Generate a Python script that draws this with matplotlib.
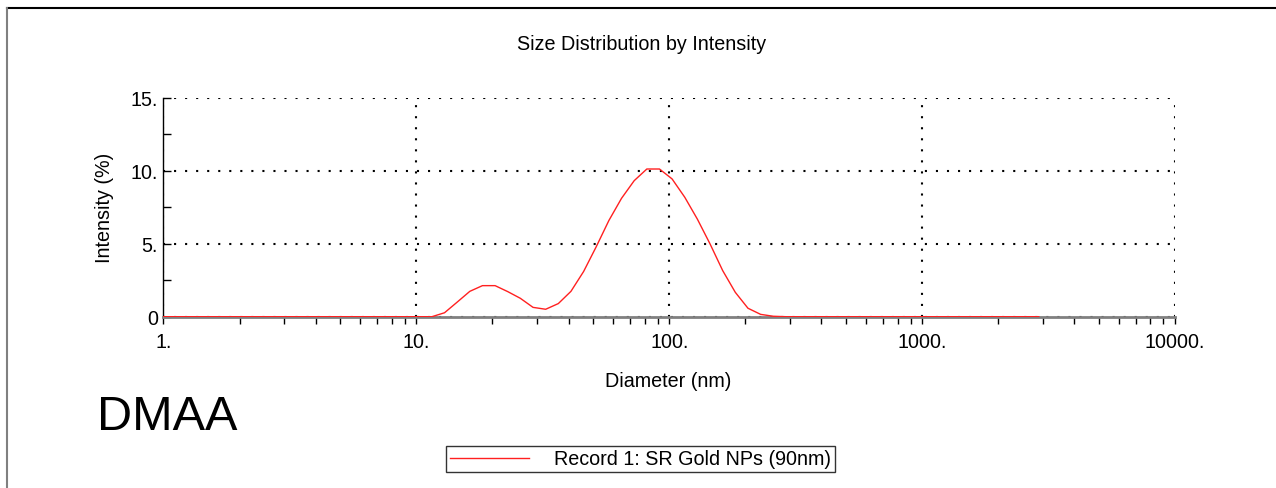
import matplotlib
matplotlib.use("Agg")
import matplotlib.pyplot as plt
from matplotlib.lines import Line2D
from matplotlib.ticker import FixedLocator, FixedFormatter, LogLocator, NullFormatter

plt.rcParams['font.family'] = ['Liberation Sans', 'DejaVu Sans']

# Size classes (nm)
diameter = [0.9148, 1.026, 1.152, 1.292, 1.450, 1.627, 1.825, 2.048, 2.298, 2.578, 2.893,
            3.246, 3.642, 4.086, 4.585, 5.144, 5.772, 6.476, 7.267, 8.153, 9.148,
            10.26, 11.52, 12.92, 14.50, 16.27, 18.25, 20.48, 22.98, 25.78, 28.93,
            32.46, 36.42, 40.86, 45.85, 51.44, 57.72, 64.76, 72.67, 81.53, 91.48,
            102.6, 115.2, 129.2, 145.0, 162.7, 182.5, 204.8, 229.8, 257.8, 289.3,
            324.6, 364.2, 408.6, 458.5, 514.4, 577.2, 647.6, 726.7, 815.3, 914.8,
            1026, 1152, 1292, 1450, 1627, 1825, 2048, 2298, 2578, 2893]
intensity = [0, 0, 0, 0, 0, 0, 0, 0, 0, 0, 0,
             0, 0, 0, 0, 0, 0, 0, 0, 0, 0,
             0, 0, 0.27, 1.0, 1.74, 2.13, 2.13, 1.72, 1.26, 0.64,
             0.51, 0.90, 1.74, 3.1, 4.8, 6.6, 8.12, 9.33, 10.13, 10.13,
             9.45, 8.19, 6.69, 4.99, 3.16, 1.67, 0.58, 0.16, 0.03, 0,
             0, 0, 0, 0, 0, 0, 0, 0, 0, 0,
             0, 0, 0, 0, 0, 0, 0, 0, 0, 0]

x_ticks = [1, 10, 100, 1000, 10000]
x_tick_labels = ["1.", "10.", "100.", "1000.", "10000."]
y_ticks = [0, 5, 10, 15]
y_tick_labels = ["0", "5.", "10.", "15."]
y_minor = [2.5, 7.5, 12.5]

title = "Size Distribution by Intensity"
series_label = "Record 1: SR Gold NPs (90nm)"

FS = 14.2

W, H = 1276, 489
fig = plt.figure(figsize=(W / 100, H / 100), dpi=100)
L, R, T, B = 163.5, 1175, 99, 317.7
ax = fig.add_axes([L / W, 1 - B / H, (R - L) / W, (B - T) / H])

line, = ax.plot(diameter, intensity, color='#ff2020', lw=1.0, label=series_label, zorder=3,
                clip_on=True)
ax.set_xscale('log')
ax.set_xlim(1, 10000)
ax.set_ylim(0, 15)

ax.xaxis.set_major_locator(FixedLocator(x_ticks))
ax.xaxis.set_major_formatter(FixedFormatter(x_tick_labels))
ax.xaxis.set_minor_locator(LogLocator(base=10, subs=[2, 3, 4, 5, 6, 7, 8, 9], numticks=20))
ax.xaxis.set_minor_formatter(NullFormatter())
ax.yaxis.set_major_locator(FixedLocator(y_ticks))
ax.yaxis.set_major_formatter(FixedFormatter(y_tick_labels))
ax.yaxis.set_minor_locator(FixedLocator(y_minor))

ax.tick_params(axis='x', which='both', direction='out', length=5, width=1, color='black',
               labelsize=FS, pad=6)
ax.tick_params(axis='y', which='both', direction='in', length=6, width=1, color='black',
               labelsize=FS, pad=4)

for s in ['top', 'right']:
    ax.spines[s].set_visible(False)
ax.spines['left'].set_color('black')
ax.spines['left'].set_linewidth(1)
ax.spines['bottom'].set_color('#808080')
ax.spines['bottom'].set_linewidth(2)

ax.grid(True, which='major', axis='both', color='black', linestyle=(0, (1, 4.3)), lw=1.5)
ax.set_axisbelow(True)

# Texts
fig.text(642 / W, 1 - 44 / H, title, ha='center', va='center', fontsize=FS)
fig.text(668 / W, 1 - 382 / H, "Diameter (nm)", ha='center', va='center', fontsize=FS)
fig.text(105 / W, 1 - 208 / H, "Intensity (%)", ha='center', va='center', rotation=90,
         fontsize=FS)
fig.text(97 / W, 1 - 418 / H, "DMAA", ha='left', va='center', fontsize=35)

leg = fig.legend(handles=[line], loc='center', bbox_to_anchor=(640.5 / W, 1 - 460 / H),
                 fontsize=FS, frameon=True, fancybox=False, handlelength=4.0,
                 handletextpad=1.3, borderpad=0.2, borderaxespad=0)
leg.get_frame().set_edgecolor('black')
leg.get_frame().set_linewidth(1)

# Figure border lines
fig.add_artist(Line2D([7 / W, 1], [1 - 9 / H, 1 - 9 / H], color='black', lw=1.5,
                      transform=fig.transFigure))
fig.add_artist(Line2D([7 / W, 7 / W], [0, 1 - 9 / H], color='#808080', lw=1.5,
                      transform=fig.transFigure))

fig.savefig("out.png", dpi=100)
